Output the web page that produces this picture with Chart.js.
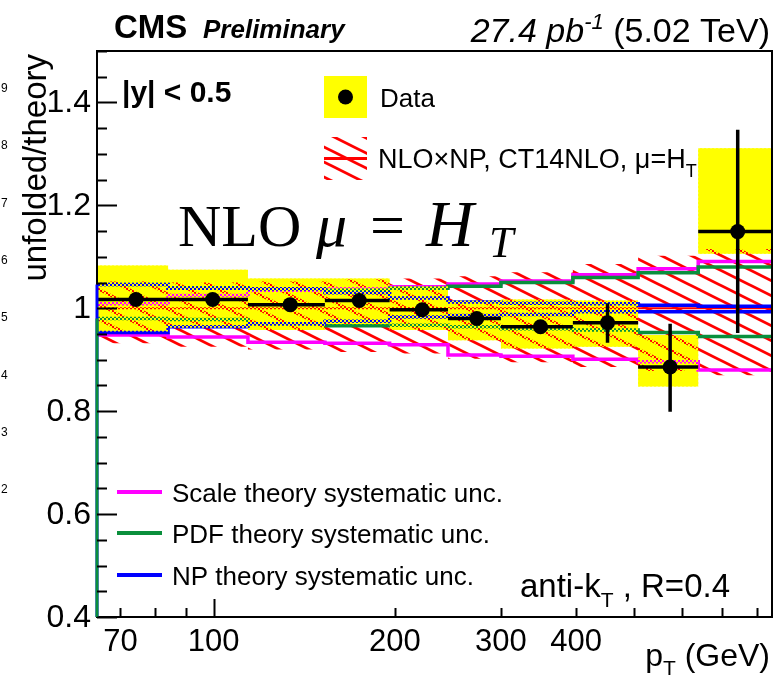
<!DOCTYPE html>
<html>
<head>
<meta charset="utf-8">
<script src="https://cdn.jsdelivr.net/npm/chart.js@4.4.1/dist/chart.umd.min.js"></script>
<style>
  html, body { margin: 0; padding: 0; background: #fff; }
  #wrap { position: relative; width: 774px; height: 684px; }
</style>
</head>
<body>
<div id="wrap"><canvas id="c" width="774" height="684"></canvas></div>
<script>
"use strict";

// bin edges in pT (GeV)
var binEdges = [64, 84, 114, 153, 196, 245, 300, 395, 507, 638, 846];

// data / theory points
var dataX     = [74.3, 99.6, 134, 174.5, 222, 273.5, 349, 451, 573, 742];
var dataY     = [1.017, 1.017, 1.007, 1.015, 0.997, 0.980, 0.964, 0.972, 0.886, 1.149];
var statUp    = [0.004, 0.004, 0.004, 0.005, 0.006, 0.008, 0.010, 0.038, 0.084, 0.198];
var statDown  = [0.004, 0.004, 0.004, 0.005, 0.006, 0.008, 0.010, 0.039, 0.087, 0.197];

// data systematic band (yellow)
var sysHigh   = [1.083, 1.075, 1.058, 1.058, 1.043, 1.015, 1.017, 1.015, 0.948, 1.311];
var sysLow    = [0.955, 0.962, 0.958, 0.969, 0.958, 0.938, 0.922, 0.925, 0.848, 1.106];

// total theory band NLOxNP (red hatch) and central value
var theoHigh  = [1.052, 1.050, 1.052, 1.056, 1.058, 1.062, 1.070, 1.086, 1.102, 1.115];
var theoLow   = [0.932, 0.925, 0.920, 0.915, 0.912, 0.902, 0.895, 0.886, 0.878, 0.870];
var theoMid   = [1.0, 1.0, 1.0, 1.0, 1.0, 1.0, 1.0, 1.0, 1.0, 1.0];

// theory systematic components
var scaleHigh = [1.009, 1.025, 1.035, 1.038, 1.042, 1.047, 1.053, 1.065, 1.077, 1.091];
var scaleLow  = [0.948, 0.944, 0.934, 0.932, 0.929, 0.909, 0.907, 0.901, 0.896, 0.880];
var pdfHigh   = [1.046, 1.040, 1.038, 1.035, 1.039, 1.043, 1.050, 1.060, 1.069, 1.080];
var pdfLow    = [0.980, 0.978, 0.970, 0.966, 0.967, 0.964, 0.960, 0.958, 0.953, 0.945];
var npHigh    = [1.046, 1.039, 1.038, 1.030, 1.020, 1.012, 1.010, 1.009, 1.006, 1.004];
var npLow     = [0.953, 0.964, 0.970, 0.975, 0.983, 0.986, 0.988, 0.993, 0.993, 0.993];

var xTickLabels = [70, 100, 200, 300, 400];
var xMinorTicks = [70, 80, 90, 200, 300, 400, 500, 600, 700, 800];
var xMajorTicks = [100];

var X_MIN = 64, X_MAX = 846, Y_MIN = 0.4, Y_MAX = 1.5;

var RED = "#ff0000", MAGENTA = "#ff00ff", GREEN = "#0a8f3c", BLUE = "#0000ff", YELLOW = "#ffff00";
var FONT = '"Liberation Sans", Arial, sans-serif';
var SERIF = '"Liberation Serif", serif';

function steps(vals) {
    var pts = [];
    vals.forEach(function(v, i) {
        pts.push({ x: binEdges[i], y: v });
        pts.push({ x: binEdges[i + 1], y: v });
    });
    return pts;
}

function makeHatch() {
    var c = document.createElement("canvas");
    c.width = 30; c.height = 15;
    var g = c.getContext("2d");
    g.strokeStyle = RED;
    g.lineWidth = 2.8;
    for (var k = -1; k <= 1; k++) {
        g.beginPath();
        g.moveTo(-2, k * 15 - 1);
        g.lineTo(32, 15 + k * 15 + 1);
        g.stroke();
    }
    return g.createPattern(c, "repeat");
}

function makeChecker() {
    var c = document.createElement("canvas");
    c.width = 4; c.height = 4;
    var g = c.getContext("2d");
    g.fillStyle = YELLOW;
    g.fillRect(0, 0, 2, 2);
    g.fillRect(2, 2, 2, 2);
    return g.createPattern(c, "repeat");
}

var hatch = makeHatch();
var checker = makeChecker();

function lineSet(vals, color, width, extra) {
    var ds = {
        type: "line",
        data: steps(vals),
        borderColor: color,
        borderWidth: width,
        pointRadius: 0,
        fill: false,
        tension: 0,
        borderCapStyle: "butt"
    };
    for (var k in extra) ds[k] = extra[k];
    return ds;
}

var datasets = [
    lineSet(sysLow, "rgba(0,0,0,0)", 0),                                    // 0
    lineSet(sysHigh, "rgba(0,0,0,0)", 0, { fill: 0, backgroundColor: YELLOW }),  // 1
    lineSet(theoLow, "rgba(0,0,0,0)", 0),                                   // 2
    lineSet(theoHigh, "rgba(0,0,0,0)", 0, { fill: 2, backgroundColor: hatch }),  // 3
    lineSet(theoMid, RED, 2),                                               // 4
    lineSet(scaleLow, MAGENTA, 3.5),                                        // 5
    lineSet(scaleHigh, MAGENTA, 3.5),                                       // 6
    lineSet(pdfLow, GREEN, 3.5),                                            // 7
    lineSet(pdfHigh, GREEN, 3.5),                                           // 8
    lineSet(npLow, BLUE, 3.5),                                              // 9
    lineSet(npHigh, BLUE, 3.5),                                             // 10
    lineSet(sysHigh, "rgba(0,0,0,0)", 0, { fill: 0, backgroundColor: checker }), // 11
    {
        type: "scatter",
        data: dataX.map(function(x, i) { return { x: x, y: dataY[i] }; }),
        pointRadius: 7.5,
        pointHoverRadius: 7.5,
        backgroundColor: "#000",
        borderColor: "#000",
        borderWidth: 0,
        showLine: false
    }
];
datasets.forEach(function(ds, i) { ds.order = 100 - i; });

// draws text pieces one after another; a piece may carry its own x
function subText(ctx, parts, x, y, align) {
    var total = 0;
    parts.forEach(function(p) { ctx.font = p.f; total += ctx.measureText(p.t).width; });
    var cx = align === "right" ? x - total : x;
    ctx.textAlign = "left";
    parts.forEach(function(p) {
        if (p.x !== undefined) cx = p.x;
        ctx.font = p.f;
        ctx.fillText(p.t, cx, y + (p.dy || 0));
        cx += ctx.measureText(p.t).width;
    });
}

var rootStyle = {
    id: "rootStyle",
    afterDatasetsDraw: function(chart) {
        var ctx = chart.ctx;
        var a = chart.chartArea;
        var xs = chart.scales.x, ys = chart.scales.y;
        ctx.save();

        // error bars
        ctx.strokeStyle = "#000";
        ctx.lineWidth = 3.5;
        ctx.lineCap = "butt";
        dataX.forEach(function(x, i) {
            var py = ys.getPixelForValue(dataY[i]);
            ctx.beginPath();
            ctx.moveTo(xs.getPixelForValue(binEdges[i]), py);
            ctx.lineTo(xs.getPixelForValue(binEdges[i + 1]), py);
            ctx.moveTo(xs.getPixelForValue(x), ys.getPixelForValue(dataY[i] + statUp[i]));
            ctx.lineTo(xs.getPixelForValue(x), ys.getPixelForValue(dataY[i] - statDown[i]));
            ctx.stroke();
        });

        // frame
        ctx.strokeStyle = "#000";
        ctx.lineWidth = 2;
        ctx.strokeRect(a.left, a.top, a.right - a.left, a.bottom - a.top);

        // histogram edges drawn from axis bottom at the left edge
        var xl = xs.getPixelForValue(binEdges[0]);
        ctx.lineWidth = 3;
        ctx.strokeStyle = BLUE;
        ctx.beginPath();
        ctx.moveTo(xl, a.bottom);
        ctx.lineTo(xl, ys.getPixelForValue(npHigh[0]));
        ctx.stroke();
        ctx.strokeStyle = GREEN;
        ctx.beginPath();
        ctx.moveTo(xl, a.bottom);
        ctx.lineTo(xl, ys.getPixelForValue(pdfLow[0]));
        ctx.stroke();

        // y ticks
        ctx.strokeStyle = "#000";
        ctx.lineWidth = 2;
        ctx.fillStyle = "#000";
        ctx.font = "32px " + FONT;
        ctx.textAlign = "right";
        ctx.textBaseline = "middle";
        for (var i = 8; i <= 30; i++) {
            var v = i * 0.05;
            var py = Math.round(ys.getPixelForValue(v)) + 0.5;
            var major = i % 4 === 0;
            ctx.beginPath();
            ctx.moveTo(a.left, py);
            ctx.lineTo(a.left + (major ? 20 : 10), py);
            ctx.stroke();
            if (major) {
                var lab = (Math.round(v * 10) / 10).toString();
                ctx.fillText(lab, 91, py + 1);
            }
        }

        // x ticks
        xMinorTicks.forEach(function(t) {
            var px = Math.round(xs.getPixelForValue(t)) + 0.5;
            ctx.beginPath();
            ctx.moveTo(px, a.bottom);
            ctx.lineTo(px, a.bottom - 9);
            ctx.stroke();
        });
        xMajorTicks.forEach(function(t) {
            var px = Math.round(xs.getPixelForValue(t)) + 0.5;
            ctx.beginPath();
            ctx.moveTo(px, a.bottom);
            ctx.lineTo(px, a.bottom - 18);
            ctx.stroke();
        });
        ctx.textAlign = "center";
        ctx.textBaseline = "alphabetic";
        ctx.font = "31px " + FONT;
        xTickLabels.forEach(function(t) {
            ctx.fillText(String(t), xs.getPixelForValue(t), 651);
        });

        // axis titles
        subText(ctx, [
            { t: "p", f: "32px " + FONT },
            { t: "T", f: "21px " + FONT, dy: 9 },
            { t: " (GeV)", f: "32px " + FONT }
        ], 770, 666, "right");

        ctx.save();
        ctx.translate(46, 54);
        ctx.rotate(-Math.PI / 2);
        ctx.textAlign = "right";
        ctx.font = "33px " + FONT;
        ctx.fillText("unfolded/theory", 0, 0);
        ctx.restore();

        // cropped neighbour labels at the far left
        ctx.font = "12px " + FONT;
        ctx.textAlign = "left";
        ["9", "8", "7", "6", "5", "4", "3", "2"].forEach(function(s, k) {
            ctx.fillText(s, 1, 92 + k * 57.3);
        });

        // header
        ctx.font = "bold 33px " + FONT;
        ctx.fillText("CMS", 114, 38);
        ctx.font = "italic bold 26px " + FONT;
        ctx.fillText("Preliminary", 203, 38);
        subText(ctx, [
            { t: "27.4 pb", f: "italic 34px " + FONT },
            { t: "-1", f: "italic 22px " + FONT, dy: -13 },
            { t: " (5.02 TeV)", f: "34px " + FONT }
        ], 770, 42, "right");

        // |y| label
        ctx.font = "bold 30px " + FONT;
        ctx.fillText("|y| < 0.5", 122, 102);

        // top legend
        ctx.fillStyle = YELLOW;
        ctx.fillRect(324, 76, 43, 42);
        ctx.fillStyle = "#000";
        ctx.beginPath();
        ctx.arc(345.5, 97, 7.5, 0, Math.PI * 2);
        ctx.fill();
        ctx.font = "26px " + FONT;
        ctx.fillText("Data", 380, 107);

        ctx.fillStyle = hatch;
        ctx.fillRect(324, 137, 43, 43);
        ctx.strokeStyle = RED;
        ctx.lineWidth = 3;
        ctx.beginPath();
        ctx.moveTo(324, 158.5);
        ctx.lineTo(367, 158.5);
        ctx.stroke();
        ctx.fillStyle = "#000";
        subText(ctx, [
            { t: "NLO\u00d7NP, CT14NLO, \u03bc=H", f: "27px " + FONT },
            { t: "T", f: "18px " + FONT, dy: 9 }
        ], 378, 168, "left");

        // big label
        subText(ctx, [
            { t: "NLO", f: "60px " + SERIF, x: 178 },
            { t: "\u03bc", f: "italic 62px " + SERIF, x: 316 },
            { t: "=", f: "62px " + SERIF, x: 370 },
            { t: "H", f: "italic 66px " + SERIF, x: 426 },
            { t: "T", f: "italic 44px " + SERIF, dy: 11, x: 489 }
        ], 178, 246, "left");

        // bottom legend
        var leg = [
            [MAGENTA, "Scale theory systematic unc.", 492],
            [GREEN, "PDF theory systematic unc.", 533],
            [BLUE, "NP theory systematic unc.", 575]
        ];
        leg.forEach(function(e) {
            ctx.strokeStyle = e[0];
            ctx.lineWidth = 4;
            ctx.beginPath();
            ctx.moveTo(117, e[2]);
            ctx.lineTo(162, e[2]);
            ctx.stroke();
            ctx.fillStyle = "#000";
            ctx.font = "26px " + FONT;
            ctx.fillText(e[1], 172, e[2] + 10);
        });

        subText(ctx, [
            { t: "anti-k", f: "33px " + FONT },
            { t: "T", f: "21px " + FONT, dy: 10 },
            { t: " , R=0.4", f: "33px " + FONT }
        ], 520, 597, "left");

        ctx.restore();
    }
};

var chart = new Chart(document.getElementById("c"), {
    data: { datasets: datasets },
    options: {
        responsive: false,
        animation: false,
        devicePixelRatio: 1,
        layout: { autoPadding: false, padding: { left: 0, top: 51, right: 2, bottom: 0 } },
        plugins: {
            legend: { display: false },
            tooltip: { enabled: false },
            filler: { drawTime: "beforeDatasetDraw" }
        },
        scales: {
            x: {
                type: "logarithmic",
                min: X_MIN,
                max: X_MAX,
                ticks: { display: false },
                grid: { display: false },
                border: { display: false },
                afterFit: function(s) { s.height = 67; }
            },
            y: {
                type: "linear",
                min: Y_MIN,
                max: Y_MAX,
                ticks: { display: false },
                grid: { display: false },
                border: { display: false },
                afterFit: function(s) { s.width = 97; }
            }
        }
    },
    plugins: [rootStyle]
});
</script>
</body>
</html>
